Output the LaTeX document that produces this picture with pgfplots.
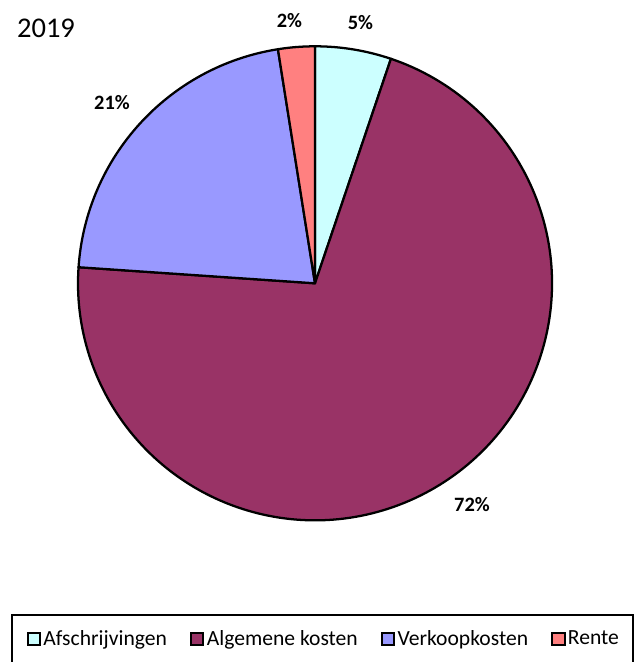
\documentclass[border=0pt]{standalone}
\usepackage{pgfplots}
\usepackage{pgfplotstable}
\pgfplotsset{compat=1.18}
\usepackage{fontspec}
\setmainfont{Carlito}

\definecolor{cAfs}{HTML}{CCFFFF}
\definecolor{cAlg}{HTML}{993366}
\definecolor{cVer}{HTML}{9999FF}
\definecolor{cRen}{HTML}{FF8080}

% share of each cost type in 2019 (percent)
\pgfplotstableread{
name value
Afschrijvingen 5.19
Algemene 70.89
Verkoop 21.42
Rente 2.50
}\piedata

\pgfplotstablegetelem{0}{value}\of\piedata \let\vA\pgfplotsretval
\pgfplotstablegetelem{1}{value}\of\piedata \let\vB\pgfplotsretval
\pgfplotstablegetelem{2}{value}\of\piedata \let\vC\pgfplotsretval
\pgfplotstablegetelem{3}{value}\of\piedata \let\vD\pgfplotsretval
\pgfmathsetmacro\aA{90}
\pgfmathsetmacro\aB{\aA-3.6*\vA}
\pgfmathsetmacro\aC{\aB-3.6*\vB}
\pgfmathsetmacro\aD{\aC-3.6*\vC}
\pgfmathsetmacro\aE{\aD-3.6*\vD}

\def\R{177.75pt}

\begin{document}
\begin{tikzpicture}
\begin{axis}[
  hide axis, scale only axis, clip=false,
  width=478.5pt, height=496.5pt,
  xmin=0, xmax=638, ymin=0, ymax=662,
  legend columns=4,
  legend image code/.code={\draw[#1, line width=1.5pt] (0pt,-4.6pt) rectangle (9.3pt,4.7pt);},
  legend style={
    draw=none, fill=none,
    at={(axis cs:324,23)}, anchor=center,
    font=\fontsize{16.2pt}{19pt}\selectfont,
    nodes={inner sep=1.8pt},
    /tikz/every even column/.append style={column sep=15.5pt},
  },
]
\addlegendimage{fill=cAfs, draw=black}
\addlegendentry{Afschrijvingen}
\addlegendimage{fill=cAlg, draw=black}
\addlegendentry{Algemene kosten}
\addlegendimage{fill=cVer, draw=black}
\addlegendentry{Verkoopkosten}
\addlegendimage{fill=cRen, draw=black}
\addlegendentry{Rente}

\filldraw[fill=cAfs, draw=black, line width=1.7pt, line join=round]
  (axis cs:315,378.7) -- ++(\aA:\R) arc[start angle=\aA, end angle=\aB, radius=\R] -- cycle;
\filldraw[fill=cAlg, draw=black, line width=1.7pt, line join=round]
  (axis cs:315,378.7) -- ++(\aB:\R) arc[start angle=\aB, end angle=\aC, radius=\R] -- cycle;
\filldraw[fill=cVer, draw=black, line width=1.7pt, line join=round]
  (axis cs:315,378.7) -- ++(\aC:\R) arc[start angle=\aC, end angle=\aD, radius=\R] -- cycle;
\filldraw[fill=cRen, draw=black, line width=1.7pt, line join=round]
  (axis cs:315,378.7) -- ++(\aD:\R) arc[start angle=\aD, end angle=\aE, radius=\R] -- cycle;

\node[font=\bfseries\fontsize{15.3pt}{18pt}\selectfont] at (axis cs:360.5,639) {5\%};
\node[font=\bfseries\fontsize{15.3pt}{18pt}\selectfont] at (axis cs:472,157.5) {72\%};
\node[font=\bfseries\fontsize{15.3pt}{18pt}\selectfont] at (axis cs:112,559) {21\%};
\node[font=\bfseries\fontsize{15.3pt}{18pt}\selectfont] at (axis cs:289.5,641) {2\%};

\node[font=\fontsize{21.4pt}{25pt}\selectfont] at (axis cs:46,634) {2019};

\draw[line width=1.6pt] (axis cs:12.3,-2) rectangle (axis cs:632.7,47);

\path (axis cs:0,0) coordinate (bl) (axis cs:638,662) coordinate (tr);
\end{axis}
\pgfresetboundingbox
\useasboundingbox (bl) rectangle (tr);
\end{tikzpicture}
\end{document}
